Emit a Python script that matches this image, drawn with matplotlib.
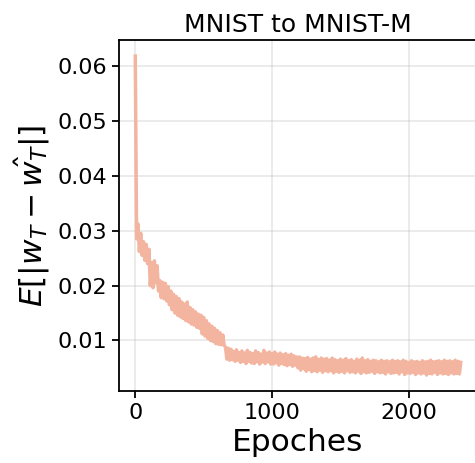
import matplotlib
matplotlib.use("Agg")
import matplotlib.pyplot as plt
import numpy as np

# epochs sampled every 10
epochs = np.arange(0, 2390, 10)

# E[|w_T - w_T_hat|], 10 values per row (100 epochs)
gap = [
    0.0618, 0.0285, 0.0312, 0.0262, 0.0295, 0.0255, 0.0280, 0.0246, 0.0275, 0.0240,
    0.0266, 0.0200, 0.0242, 0.0196, 0.0245, 0.0205, 0.0236, 0.0190, 0.0209, 0.0178,
    0.0206, 0.0176, 0.0204, 0.0172, 0.0198, 0.0165, 0.0190, 0.0156, 0.0184, 0.0150,
    0.0180, 0.0146, 0.0176, 0.0143, 0.0170, 0.0140, 0.0166, 0.0136, 0.0170, 0.0134,
    0.0160, 0.0130, 0.0156, 0.0128, 0.0152, 0.0124, 0.0148, 0.0122, 0.0146, 0.0112,
    0.0142, 0.0108, 0.0136, 0.0104, 0.0130, 0.0100, 0.0126, 0.0098, 0.0122, 0.0094,
    0.0118, 0.0093, 0.0114, 0.0092, 0.0110, 0.0091, 0.0088, 0.0066, 0.0086, 0.0064,
    0.0084, 0.0065, 0.0080, 0.0062, 0.0083, 0.0064, 0.0078, 0.0060, 0.0081, 0.0062,
    0.0077, 0.0058, 0.0082, 0.0062, 0.0078, 0.0059, 0.0076, 0.0058, 0.0081, 0.0061,
    0.0078, 0.0057, 0.0075, 0.0061, 0.0082, 0.0058, 0.0077, 0.0061, 0.0079, 0.0057,
    0.0076, 0.0057, 0.0079, 0.0059, 0.0075, 0.0055, 0.0077, 0.0058, 0.0074, 0.0056,
    0.0076, 0.0054, 0.0073, 0.0056, 0.0075, 0.0053, 0.0072, 0.0055, 0.0070, 0.0050,
    0.0070, 0.0046, 0.0068, 0.0049, 0.0067, 0.0044, 0.0069, 0.0047, 0.0066, 0.0043,
    0.0068, 0.0045, 0.0070, 0.0043, 0.0065, 0.0046, 0.0068, 0.0042, 0.0066, 0.0045,
    0.0067, 0.0043, 0.0064, 0.0045, 0.0068, 0.0041, 0.0065, 0.0044, 0.0063, 0.0042,
    0.0066, 0.0044, 0.0064, 0.0041, 0.0067, 0.0045, 0.0063, 0.0042, 0.0065, 0.0043,
    0.0062, 0.0041, 0.0066, 0.0044, 0.0064, 0.0040, 0.0068, 0.0043, 0.0063, 0.0041,
    0.0065, 0.0042, 0.0062, 0.0044, 0.0064, 0.0040, 0.0063, 0.0043, 0.0061, 0.0041,
    0.0064, 0.0042, 0.0062, 0.0039, 0.0063, 0.0043, 0.0061, 0.0040, 0.0064, 0.0041,
    0.0062, 0.0042, 0.0063, 0.0039, 0.0061, 0.0043, 0.0064, 0.0038, 0.0062, 0.0041,
    0.0060, 0.0040, 0.0063, 0.0042, 0.0061, 0.0038, 0.0062, 0.0041, 0.0060, 0.0039,
    0.0063, 0.0041, 0.0061, 0.0037, 0.0062, 0.0040, 0.0064, 0.0039, 0.0061, 0.0042,
    0.0062, 0.0038, 0.0063, 0.0041, 0.0061, 0.0039, 0.0064, 0.0040, 0.0062, 0.0038,
    0.0063, 0.0041, 0.0061, 0.0039, 0.0064, 0.0040, 0.0062, 0.0039, 0.0060,
]

xticks = [0, 1000, 2000]
yticks = [0.01, 0.02, 0.03, 0.04, 0.05, 0.06]

fig = plt.figure(figsize=(4.75, 4.63), dpi=100)
ax = fig.add_axes([0.2505, 0.1555, 0.7537, 0.758])

ax.plot(epochs, gap, color="#f3b5a0", linewidth=2.5)

ax.set_xticks(xticks)
ax.set_yticks(yticks)
ax.tick_params(labelsize=16, width=1.3, length=5)
for sp in ax.spines.values():
    sp.set_linewidth(1.3)
ax.grid(alpha=0.3, linewidth=1.2)

ax.set_title("MNIST to MNIST-M", fontsize=18)
ax.set_xlabel("Epoches", fontsize=22.5)
ax.set_ylabel(r"$E[|w_T - \hat{w_T}|]$", fontsize=22.5)

fig.savefig("out.png", dpi=100)
